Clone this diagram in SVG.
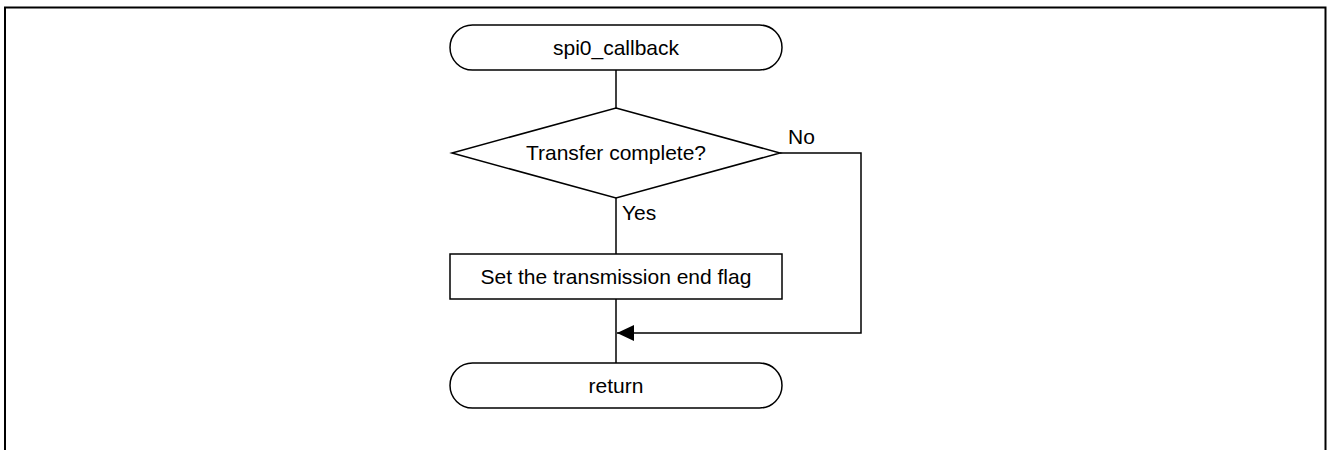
<svg xmlns="http://www.w3.org/2000/svg" width="1327" height="450" viewBox="0 0 1327 450">
<defs>
<style>
.s{fill:#fff;stroke:#000;stroke-width:1.5}
.c{fill:none;stroke:#000;stroke-width:1.5}
text{font-family:"Liberation Sans",Arial,sans-serif;font-size:21px;fill:#000}
.m{text-anchor:middle}
</style>
<marker id="ah" markerWidth="18" markerHeight="16" refX="17" refY="8" orient="auto" markerUnits="userSpaceOnUse">
<path d="M0,0 L17,8 L0,16 Z" fill="#000"/>
</marker>
</defs>
<rect x="0" y="0" width="1327" height="450" fill="#fff"/>
<path d="M5,450 V7.5 H1325.5 V450" fill="none" stroke="#000" stroke-width="2"/>
<g id="connectors">
<line class="c" x1="616" y1="70" x2="616" y2="108"/>
<line class="c" x1="616" y1="198" x2="616" y2="254"/>
<line class="c" x1="616" y1="299" x2="616" y2="363"/>
<polyline class="c" points="780,153 861,153 861,333 617,333" marker-end="url(#ah)"/>
<text x="622" y="220">Yes</text>
<text x="788" y="144">No</text>
</g>
<g id="start">
<rect class="s" x="450" y="25" width="332" height="45" rx="22.5"/>
<text class="m" x="616" y="55">spi0_callback</text>
</g>
<g id="decision">
<polygon class="s" points="616,108 780,153 616,198 452,153"/>
<text class="m" x="616" y="160">Transfer complete?</text>
</g>
<g id="process">
<rect class="s" x="450" y="254" width="332" height="45"/>
<text class="m" x="616" y="284">Set the transmission end flag</text>
</g>
<g id="end">
<rect class="s" x="450" y="363" width="332" height="45" rx="22.5"/>
<text class="m" x="616" y="393">return</text>
</g>
</svg>
